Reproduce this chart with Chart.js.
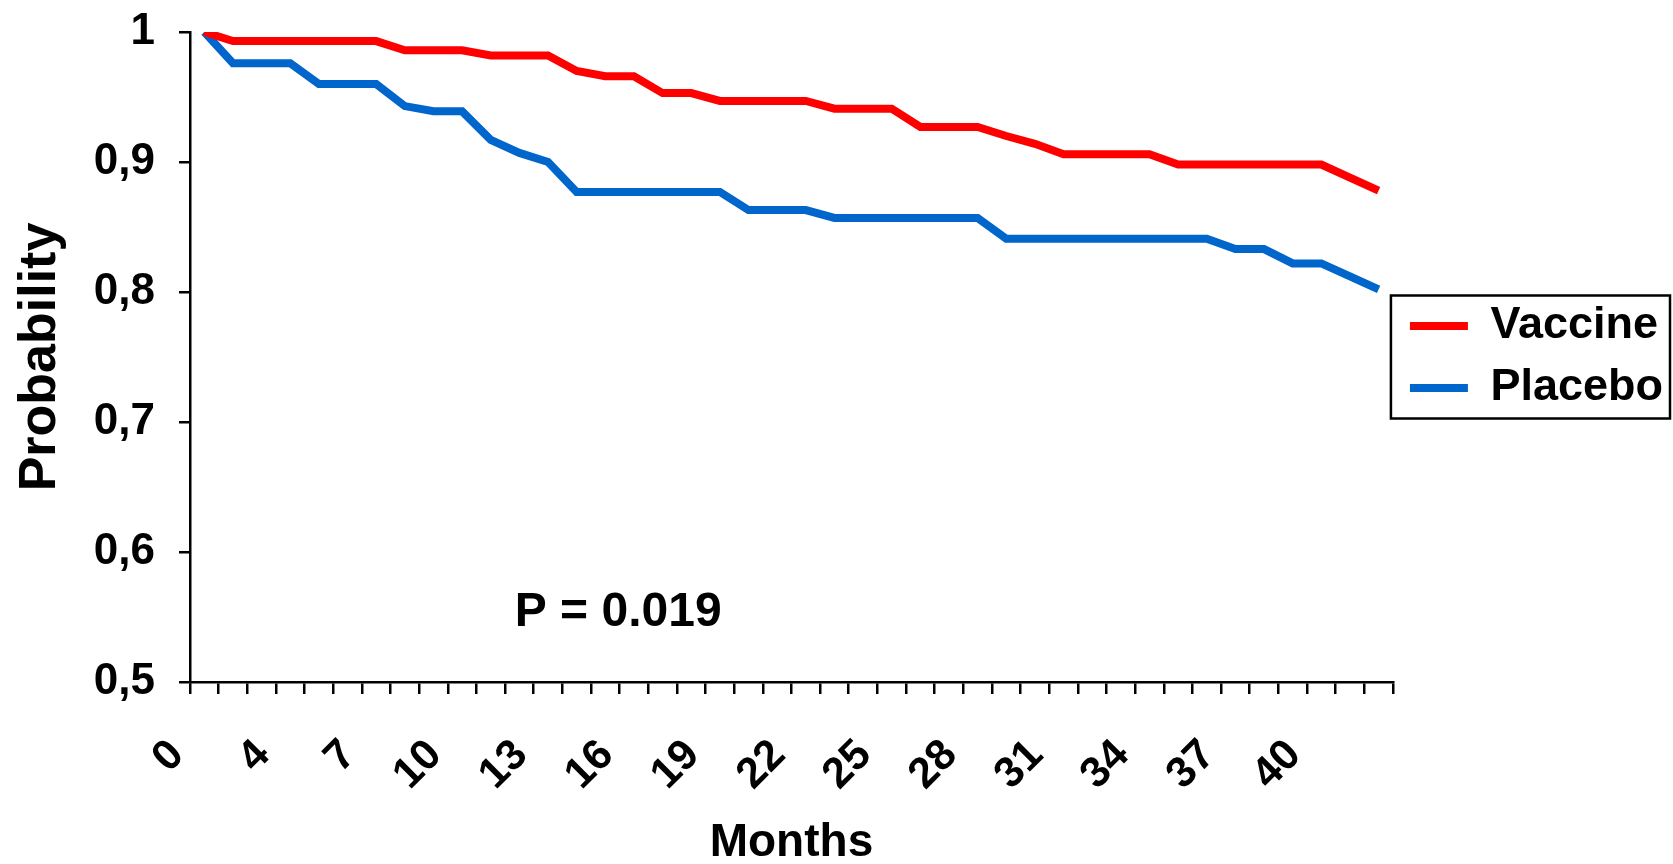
<!DOCTYPE html>
<html>
<head>
<meta charset="utf-8">
<script src="https://cdn.jsdelivr.net/npm/chart.js@4/dist/chart.umd.min.js"></script>
<style>
  html, body { margin: 0; padding: 0; background: #fff; }
  #wrap { width: 1673px; height: 864px; }
</style>
</head>
<body>
<div id="wrap"><canvas id="km"></canvas></div>
<script>
const months = ["0", "2", "3", "4", "5", "6", "7", "8", "9", "10", "11", "12", "13", "14",
  "15", "16", "17", "18", "19", "20", "21", "22", "23", "24", "25", "26", "27", "28",
  "29", "30", "31", "32", "33", "34", "35", "36", "37", "38", "39", "40", "41", "42"];

const vaccine = [1.000, 0.993, 0.993, 0.993, 0.993, 0.993, 0.993, 0.986, 0.986, 0.986,
  0.982, 0.982, 0.982, 0.970, 0.966, 0.966, 0.953, 0.953, 0.947, 0.947,
  0.947, 0.947, 0.941, 0.941, 0.941, 0.927, 0.927, 0.927, 0.920, 0.914,
  0.906, 0.906, 0.906, 0.906, 0.898, 0.898, 0.898, 0.898, 0.898, 0.898,
  0.888, 0.878];

const placebo = [1.000, 0.976, 0.976, 0.976, 0.960, 0.960, 0.960, 0.943, 0.939, 0.939,
  0.917, 0.907, 0.900, 0.877, 0.877, 0.877, 0.877, 0.877, 0.877, 0.863,
  0.863, 0.863, 0.857, 0.857, 0.857, 0.857, 0.857, 0.857, 0.841, 0.841,
  0.841, 0.841, 0.841, 0.841, 0.841, 0.841, 0.833, 0.833, 0.822, 0.822,
  0.812, 0.802];

const seriesNames = ["Vaccine", "Placebo"];
const pLabel = "P = 0.019";

const FONT = "'Liberation Sans', Arial, sans-serif";

// legend centred on the plot (not the whole canvas), framed, plus the p-value text
const extras = {
  id: "extras",
  afterLayout(chart) {
    const lg = chart.legend;
    lg.top = chart.chartArea.top;
    lg.bottom = chart.chartArea.bottom;
    lg.height = lg.bottom - lg.top;
    lg.adjustHitBoxes();
  },
  afterDraw(chart) {
    const ctx = chart.ctx;
    const lg = chart.legend;
    const boxes = lg.legendHitBoxes;
    if (boxes && boxes.length) {
      const top = boxes[0].top - 8;
      const last = boxes[boxes.length - 1];
      const bottom = last.top + last.height + 8;
      ctx.save();
      ctx.strokeStyle = "#000";
      ctx.lineWidth = 2.5;
      ctx.strokeRect(lg.left - 2, top, chart.width - lg.left - 1, bottom - top);
      ctx.restore();
    }
    const xs = chart.scales.x, ys = chart.scales.y;
    ctx.save();
    ctx.font = "bold 48px " + FONT;
    ctx.fillStyle = "#000";
    ctx.textAlign = "center";
    ctx.textBaseline = "middle";
    ctx.fillText(pLabel, xs.getPixelForValue(14.45), ys.getPixelForValue(0.553));
    ctx.restore();
  }
};

new Chart(document.getElementById("km"), {
  type: "line",
  data: {
    labels: months,
    datasets: [
      { label: seriesNames[0], data: vaccine, borderColor: "#ff0000", backgroundColor: "#ff0000" },
      { label: seriesNames[1], data: placebo, borderColor: "#0066cc", backgroundColor: "#0066cc" }
    ]
  },
  options: {
    responsive: true,
    maintainAspectRatio: false,
    animation: false,
    elements: {
      line: { borderWidth: 8, tension: 0, fill: false },
      point: { radius: 0 }
    },
    layout: { padding: { top: 32, right: 0, left: 0, bottom: 0 } },
    plugins: {
      tooltip: { enabled: false },
      legend: {
        position: "right",
        labels: {
          color: "#000",
          font: { family: FONT, size: 45, weight: "bold" },
          boxWidth: 58,
          boxHeight: 8,
          padding: 17,
          generateLabels(chart) {
            return Chart.defaults.plugins.legend.labels.generateLabels(chart)
              .map(l => Object.assign(l, { lineWidth: 0 }));
          }
        }
      }
    },
    scales: {
      x: {
        offset: true,
        afterFit(scale) { scale.height = 182; },
        border: { display: true, color: "#000", width: 2.5 },
        grid: { offset: true, drawOnChartArea: false, drawTicks: true, tickLength: 12, color: "#000", lineWidth: 2.5 },
        ticks: {
          autoSkip: false,
          minRotation: 45,
          maxRotation: 45,
          padding: 36,
          labelOffset: -27,
          color: "#000",
          font: { family: FONT, size: 43, weight: "bold" },
          callback: (v, i) => (i % 3 === 0 ? months[i] : "")
        },
        title: {
          display: true,
          text: "Months",
          color: "#000",
          font: { family: FONT, size: 46, weight: "bold", lineHeight: 0.9 },
          padding: { top: 0, bottom: 0 }
        }
      },
      y: {
        min: 0.5,
        max: 1,
        afterFit(scale) {
          scale.width = 190;
          scale.paddingTop = 0;
          scale.paddingBottom = 0;
        },
        border: { display: true, color: "#000", width: 2.5 },
        grid: { drawOnChartArea: false, drawTicks: true, tickLength: 11, color: "#000", lineWidth: 2.5 },
        ticks: {
          stepSize: 0.1,
          padding: 24,
          color: "#000",
          font: { family: FONT, size: 44, weight: "bold" },
          callback: v => (v === 1 ? "1" : v.toFixed(1).replace(".", ","))
        },
        title: {
          display: true,
          text: "Probability",
          color: "#000",
          font: { family: FONT, size: 52, weight: "bold" },
          padding: { top: 9, bottom: 0 }
        }
      }
    }
  },
  plugins: [extras]
});
</script>
</body>
</html>
